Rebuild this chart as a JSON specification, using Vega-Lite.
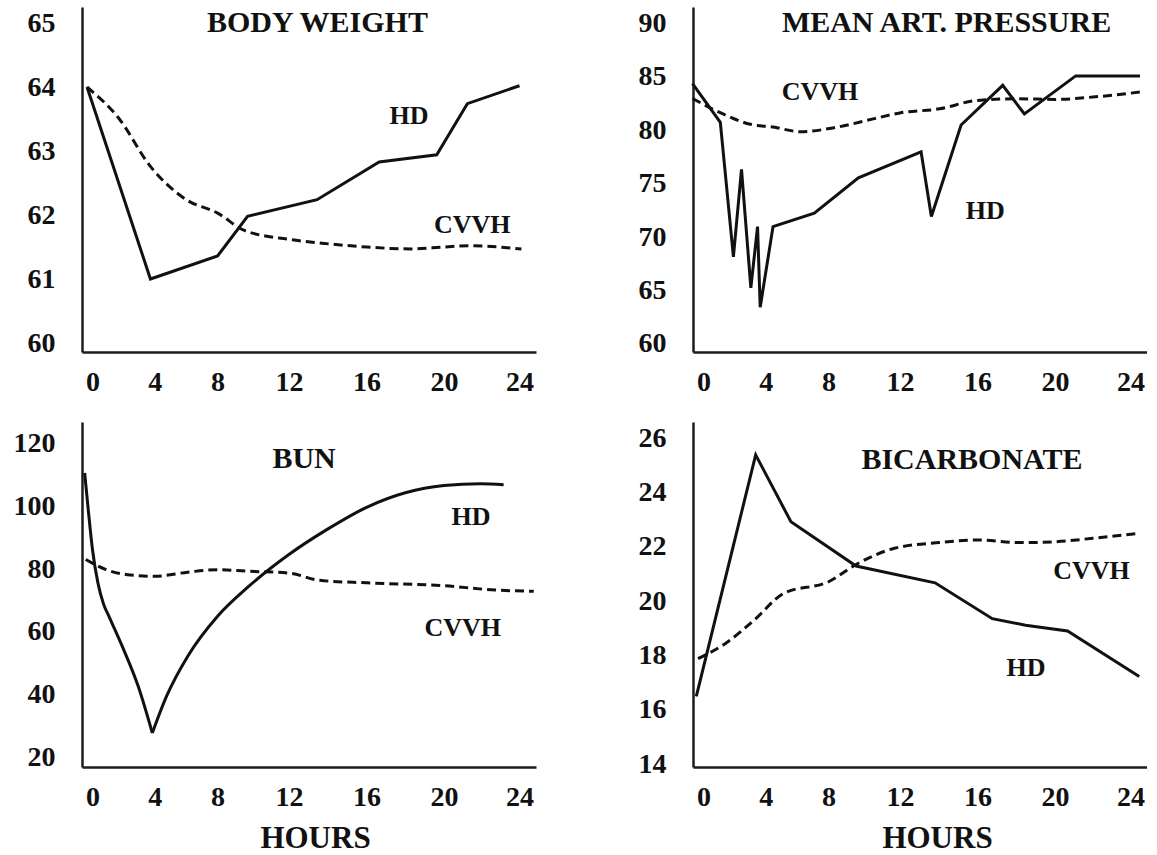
{
  "$schema": "https://vega.github.io/schema/vega-lite/v6.json",
  "background": "white",
  "padding": {"left": 13, "top": 7, "right": 0, "bottom": 0},
  "config": {
    "view": {"stroke": null},
    "axis": {
      "domainColor": "#1c1c1c",
      "domainWidth": 2.5,
      "ticks": false,
      "grid": false,
      "format": "d",
      "labelFont": "Liberation Serif",
      "labelFontWeight": "bold",
      "labelFontSize": 28,
      "labelColor": "#111111",
      "labelOverlap": false,
      "labelFlush": false,
      "titleFont": "Liberation Serif",
      "titleFontWeight": "bold",
      "titleFontSize": 31,
      "titleColor": "#111111"
    },
    "axisX": {"labelPadding": 16},
    "axisY": {"labelPadding": 27},
    "text": {"font": "Liberation Serif", "fontWeight": "bold", "color": "#111111", "align": "center", "baseline": "middle"},
    "line": {"color": "#111111", "strokeWidth": 3}
  },
  "datasets": {
    "weight": [
      {"series": "HD", "h": -0.35, "v": 64.0},
      {"series": "HD", "h": 3.72, "v": 61.0},
      {"series": "HD", "h": 8.0, "v": 61.36},
      {"series": "HD", "h": 9.68, "v": 61.98},
      {"series": "HD", "h": 13.45, "v": 62.24},
      {"series": "HD", "h": 16.65, "v": 62.83},
      {"series": "HD", "h": 19.63, "v": 62.94},
      {"series": "HD", "h": 21.24, "v": 63.74},
      {"series": "HD", "h": 24.0, "v": 64.02},
      {"series": "CVVH", "h": -0.35, "v": 64.0},
      {"series": "CVVH", "h": 1.66, "v": 63.52},
      {"series": "CVVH", "h": 3.72, "v": 62.76},
      {"series": "CVVH", "h": 6.0, "v": 62.24},
      {"series": "CVVH", "h": 8.0, "v": 62.03},
      {"series": "CVVH", "h": 9.5, "v": 61.76},
      {"series": "CVVH", "h": 12.0, "v": 61.62},
      {"series": "CVVH", "h": 13.7, "v": 61.56},
      {"series": "CVVH", "h": 16.0, "v": 61.5},
      {"series": "CVVH", "h": 18.3, "v": 61.47},
      {"series": "CVVH", "h": 20.0, "v": 61.5},
      {"series": "CVVH", "h": 21.3, "v": 61.52},
      {"series": "CVVH", "h": 24.1, "v": 61.47}
    ],
    "map": [
      {"series": "HD", "h": -0.7, "v": 84.34},
      {"series": "HD", "h": 1.08, "v": 80.72},
      {"series": "HD", "h": 1.92, "v": 68.14},
      {"series": "HD", "h": 2.44, "v": 76.32},
      {"series": "HD", "h": 3.04, "v": 65.25},
      {"series": "HD", "h": 3.47, "v": 70.97},
      {"series": "HD", "h": 3.64, "v": 63.43},
      {"series": "HD", "h": 4.46, "v": 70.97},
      {"series": "HD", "h": 7.09, "v": 72.23},
      {"series": "HD", "h": 9.67, "v": 75.53},
      {"series": "HD", "h": 13.09, "v": 77.96},
      {"series": "HD", "h": 13.62, "v": 71.92},
      {"series": "HD", "h": 15.15, "v": 80.47},
      {"series": "HD", "h": 17.3, "v": 84.18},
      {"series": "HD", "h": 18.42, "v": 81.5},
      {"series": "HD", "h": 21.1, "v": 85.06},
      {"series": "HD", "h": 24.5, "v": 85.06},
      {"series": "CVVH", "h": -0.7, "v": 82.95},
      {"series": "CVVH", "h": 1.25, "v": 81.5},
      {"series": "CVVH", "h": 2.92, "v": 80.57},
      {"series": "CVVH", "h": 4.57, "v": 80.25},
      {"series": "CVVH", "h": 6.2, "v": 79.84},
      {"series": "CVVH", "h": 8.42, "v": 80.25},
      {"series": "CVVH", "h": 10.5, "v": 81.04},
      {"series": "CVVH", "h": 12.0, "v": 81.6},
      {"series": "CVVH", "h": 14.03, "v": 81.98},
      {"series": "CVVH", "h": 16.0, "v": 82.77},
      {"series": "CVVH", "h": 18.14, "v": 82.92},
      {"series": "CVVH", "h": 20.0, "v": 82.86},
      {"series": "CVVH", "h": 22.0, "v": 83.08},
      {"series": "CVVH", "h": 24.5, "v": 83.55}
    ],
    "bun": [
      {"series": "HD", "seg": "fall", "h": -0.5, "v": 110.5},
      {"series": "HD", "seg": "fall", "h": -0.27, "v": 98.8},
      {"series": "HD", "seg": "fall", "h": 0.0, "v": 86.1},
      {"series": "HD", "seg": "fall", "h": 0.35, "v": 75.5},
      {"series": "HD", "seg": "fall", "h": 0.7, "v": 69.0},
      {"series": "HD", "seg": "fall", "h": 1.1, "v": 64.5},
      {"series": "HD", "seg": "fall", "h": 2.0, "v": 54.4},
      {"series": "HD", "seg": "fall", "h": 2.93, "v": 42.8},
      {"series": "HD", "seg": "fall", "h": 3.84, "v": 27.9},
      {"series": "HD", "seg": "rise", "h": 3.84, "v": 27.9},
      {"series": "HD", "seg": "rise", "h": 4.75, "v": 39.6},
      {"series": "HD", "seg": "rise", "h": 6.1, "v": 52.3},
      {"series": "HD", "seg": "rise", "h": 8.0, "v": 65.0},
      {"series": "HD", "seg": "rise", "h": 9.71, "v": 74.3},
      {"series": "HD", "seg": "rise", "h": 12.0, "v": 84.6},
      {"series": "HD", "seg": "rise", "h": 13.95, "v": 92.5},
      {"series": "HD", "seg": "rise", "h": 16.0, "v": 99.6},
      {"series": "HD", "seg": "rise", "h": 18.05, "v": 104.3},
      {"series": "HD", "seg": "rise", "h": 20.0, "v": 106.5},
      {"series": "HD", "seg": "rise", "h": 21.95, "v": 107.1},
      {"series": "HD", "seg": "rise", "h": 23.16, "v": 106.8},
      {"series": "CVVH", "seg": "all", "h": -0.43, "v": 83.0},
      {"series": "CVVH", "seg": "all", "h": 0.87, "v": 79.8},
      {"series": "CVVH", "seg": "all", "h": 2.24, "v": 78.2},
      {"series": "CVVH", "seg": "all", "h": 4.0, "v": 77.7},
      {"series": "CVVH", "seg": "all", "h": 6.1, "v": 79.0},
      {"series": "CVVH", "seg": "all", "h": 8.0, "v": 79.8},
      {"series": "CVVH", "seg": "all", "h": 9.7, "v": 79.3},
      {"series": "CVVH", "seg": "all", "h": 12.0, "v": 78.7},
      {"series": "CVVH", "seg": "all", "h": 13.58, "v": 76.4},
      {"series": "CVVH", "seg": "all", "h": 16.0, "v": 75.6},
      {"series": "CVVH", "seg": "all", "h": 20.0, "v": 74.7},
      {"series": "CVVH", "seg": "all", "h": 22.5, "v": 73.4},
      {"series": "CVVH", "seg": "all", "h": 24.75, "v": 72.9}
    ],
    "bicarb": [
      {"series": "HD", "h": -0.46, "v": 16.49},
      {"series": "HD", "h": 3.35, "v": 25.38},
      {"series": "HD", "h": 5.6, "v": 22.92},
      {"series": "HD", "h": 9.54, "v": 21.29},
      {"series": "HD", "h": 13.81, "v": 20.67},
      {"series": "HD", "h": 16.76, "v": 19.35},
      {"series": "HD", "h": 18.48, "v": 19.11},
      {"series": "HD", "h": 20.67, "v": 18.9},
      {"series": "HD", "h": 24.46, "v": 17.22},
      {"series": "CVVH", "h": -0.35, "v": 17.88},
      {"series": "CVVH", "h": 1.39, "v": 18.43},
      {"series": "CVVH", "h": 3.24, "v": 19.29},
      {"series": "CVVH", "h": 5.13, "v": 20.28},
      {"series": "CVVH", "h": 8.0, "v": 20.71},
      {"series": "CVVH", "h": 9.64, "v": 21.38},
      {"series": "CVVH", "h": 11.69, "v": 21.94},
      {"series": "CVVH", "h": 14.0, "v": 22.15},
      {"series": "CVVH", "h": 16.0, "v": 22.25},
      {"series": "CVVH", "h": 18.19, "v": 22.15},
      {"series": "CVVH", "h": 20.0, "v": 22.18},
      {"series": "CVVH", "h": 22.0, "v": 22.31},
      {"series": "CVVH", "h": 24.38, "v": 22.49}
    ]
  },
  "columns": 2,
  "spacing": {"row": 70, "column": 157},
  "bounds": "flush",
  "concat": [
    {
      "width": 454,
      "height": 345,
      "data": {"name": "weight"},
      "layer": [
        {
          "transform": [{"filter": "datum.series === 'HD'"}],
          "mark": {"type": "line"},
          "encoding": {
            "x": {"field": "h", "type": "quantitative", "scale": {"domain": [-0.67, 0, 4, 8, 12, 16, 20, 24, 24.87], "range": [0, 10.5, 72.8, 135.6, 206.9, 284.6, 361.9, 437.5, 454], "zero": false, "nice": false}, "axis": {"values": [0, 4, 8, 12, 16, 20, 24], "title": null}},
            "y": {"field": "v", "type": "quantitative", "scale": {"domain": [59.86, 65.25], "zero": false, "nice": false}, "axis": {"values": [60, 61, 62, 63, 64, 65], "title": null}}
          }
        },
        {
          "transform": [{"filter": "datum.series === 'CVVH'"}],
          "mark": {"type": "line", "strokeDash": [9, 5], "interpolate": "monotone"},
          "encoding": {
            "x": {"field": "h", "type": "quantitative"},
            "y": {"field": "v", "type": "quantitative"}
          }
        },
        {"data": {"values": [{}]}, "mark": {"type": "text", "fontSize": 30, "text": "BODY WEIGHT"}, "encoding": {"x": {"datum": 13.47, "type": "quantitative"}, "y": {"datum": 65.0, "type": "quantitative"}}},
        {"data": {"values": [{}]}, "mark": {"type": "text", "fontSize": 26, "text": "HD"}, "encoding": {"x": {"datum": 18.2, "type": "quantitative"}, "y": {"datum": 63.54, "type": "quantitative"}}},
        {"data": {"values": [{}]}, "mark": {"type": "text", "fontSize": 26, "text": "CVVH"}, "encoding": {"x": {"datum": 21.5, "type": "quantitative"}, "y": {"datum": 61.84, "type": "quantitative"}}}
      ]
    },
    {
      "width": 454,
      "height": 345,
      "data": {"name": "map"},
      "layer": [
        {
          "transform": [{"filter": "datum.series === 'HD'"}],
          "mark": {"type": "line"},
          "encoding": {
            "x": {"field": "h", "type": "quantitative", "scale": {"domain": [-0.67, 0, 4, 8, 12, 16, 20, 24, 24.87], "range": [0, 10.5, 72.8, 135.6, 206.9, 284.6, 361.9, 437.5, 454], "zero": false, "nice": false}, "axis": {"values": [0, 4, 8, 12, 16, 20, 24], "title": null}},
            "y": {"field": "v", "type": "quantitative", "scale": {"domain": [59.25, 91.5], "zero": false, "nice": false}, "axis": {"values": [60, 65, 70, 75, 80, 85, 90], "title": null}}
          }
        },
        {
          "transform": [{"filter": "datum.series === 'CVVH'"}],
          "mark": {"type": "line", "strokeDash": [9, 5], "interpolate": "monotone"},
          "encoding": {
            "x": {"field": "h", "type": "quantitative"},
            "y": {"field": "v", "type": "quantitative"}
          }
        },
        {"data": {"values": [{}]}, "mark": {"type": "text", "fontSize": 30, "text": "MEAN ART. PRESSURE"}, "encoding": {"x": {"datum": 14.4, "type": "quantitative"}, "y": {"datum": 90.0, "type": "quantitative"}}},
        {"data": {"values": [{}]}, "mark": {"type": "text", "fontSize": 26, "text": "HD"}, "encoding": {"x": {"datum": 16.4, "type": "quantitative"}, "y": {"datum": 72.4, "type": "quantitative"}}},
        {"data": {"values": [{}]}, "mark": {"type": "text", "fontSize": 26, "text": "CVVH"}, "encoding": {"x": {"datum": 7.45, "type": "quantitative"}, "y": {"datum": 83.55, "type": "quantitative"}}}
      ]
    },
    {
      "width": 454,
      "height": 345,
      "data": {"name": "bun"},
      "layer": [
        {
          "transform": [{"filter": "datum.series === 'HD'"}],
          "mark": {"type": "line", "interpolate": "monotone"},
          "encoding": {
            "x": {"field": "h", "type": "quantitative", "scale": {"domain": [-0.67, 0, 4, 8, 12, 16, 20, 24, 24.87], "range": [0, 10.5, 72.8, 135.6, 206.9, 284.6, 361.9, 437.5, 454], "zero": false, "nice": false}, "axis": {"values": [0, 4, 8, 12, 16, 20, 24], "title": "HOURS", "titleX": 233, "titlePadding": 12}},
            "y": {"field": "v", "type": "quantitative", "scale": {"domain": [17.1, 126.7], "zero": false, "nice": false}, "axis": {"values": [20, 40, 60, 80, 100, 120], "title": null}},
            "detail": {"field": "seg", "type": "nominal"}
          }
        },
        {
          "transform": [{"filter": "datum.series === 'CVVH'"}],
          "mark": {"type": "line", "strokeDash": [9, 5], "interpolate": "monotone"},
          "encoding": {
            "x": {"field": "h", "type": "quantitative"},
            "y": {"field": "v", "type": "quantitative"}
          }
        },
        {"data": {"values": [{}]}, "mark": {"type": "text", "fontSize": 30, "text": "BUN"}, "encoding": {"x": {"datum": 12.78, "type": "quantitative"}, "y": {"datum": 114.9, "type": "quantitative"}}},
        {"data": {"values": [{}]}, "mark": {"type": "text", "fontSize": 26, "text": "HD"}, "encoding": {"x": {"datum": 21.43, "type": "quantitative"}, "y": {"datum": 96.5, "type": "quantitative"}}},
        {"data": {"values": [{}]}, "mark": {"type": "text", "fontSize": 26, "text": "CVVH"}, "encoding": {"x": {"datum": 21.0, "type": "quantitative"}, "y": {"datum": 61.3, "type": "quantitative"}}}
      ]
    },
    {
      "width": 454,
      "height": 345,
      "data": {"name": "bicarb"},
      "layer": [
        {
          "transform": [{"filter": "datum.series === 'HD'"}],
          "mark": {"type": "line"},
          "encoding": {
            "x": {"field": "h", "type": "quantitative", "scale": {"domain": [-0.67, 0, 4, 8, 12, 16, 20, 24, 24.87], "range": [0, 10.5, 72.8, 135.6, 206.9, 284.6, 361.9, 437.5, 454], "zero": false, "nice": false}, "axis": {"values": [0, 4, 8, 12, 16, 20, 24], "title": "HOURS", "titleX": 244, "titlePadding": 12}},
            "y": {"field": "v", "type": "quantitative", "scale": {"domain": [13.89, 26.59], "zero": false, "nice": false}, "axis": {"values": [14, 16, 18, 20, 22, 24, 26], "title": null}}
          }
        },
        {
          "transform": [{"filter": "datum.series === 'CVVH'"}],
          "mark": {"type": "line", "strokeDash": [9, 5], "interpolate": "monotone"},
          "encoding": {
            "x": {"field": "h", "type": "quantitative"},
            "y": {"field": "v", "type": "quantitative"}
          }
        },
        {"data": {"values": [{}]}, "mark": {"type": "text", "fontSize": 30, "text": "BICARBONATE"}, "encoding": {"x": {"datum": 15.71, "type": "quantitative"}, "y": {"datum": 25.2, "type": "quantitative"}}},
        {"data": {"values": [{}]}, "mark": {"type": "text", "fontSize": 26, "text": "HD"}, "encoding": {"x": {"datum": 18.5, "type": "quantitative"}, "y": {"datum": 17.54, "type": "quantitative"}}},
        {"data": {"values": [{}]}, "mark": {"type": "text", "fontSize": 26, "text": "CVVH"}, "encoding": {"x": {"datum": 21.94, "type": "quantitative"}, "y": {"datum": 21.1, "type": "quantitative"}}}
      ]
    }
  ]
}
